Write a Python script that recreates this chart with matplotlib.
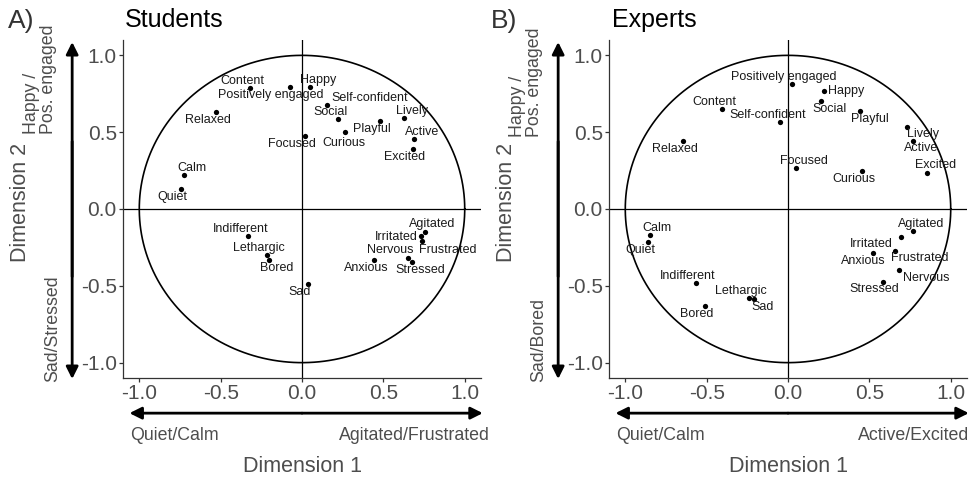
import numpy as np
import matplotlib
matplotlib.use("Agg")
import matplotlib.pyplot as plt

plt.rcParams['font.family'] = ['Liberation Sans', 'DejaVu Sans']

# emotion coordinates on the first two dimensions
stud_labels = ["Content", "Positively engaged", "Happy", "Self-confident", "Social",
               "Relaxed", "Lively", "Playful", "Curious", "Focused", "Active", "Excited",
               "Calm", "Quiet", "Indifferent", "Lethargic", "Bored", "Sad", "Agitated",
               "Irritated", "Frustrated", "Nervous", "Stressed", "Anxious"]
stud_x = [-0.32, -0.075, 0.047, 0.151, 0.219, -0.53, 0.626, 0.477, 0.264, 0.018, 0.69, 0.681,
          -0.728, -0.746, -0.329, -0.217, -0.204, 0.037, 0.753, 0.732, 0.738, 0.652, 0.677, 0.442]
stud_y = [0.79, 0.795, 0.797, 0.68, 0.588, 0.634, 0.593, 0.571, 0.502, 0.477, 0.458, 0.391,
          0.219, 0.130, -0.178, -0.302, -0.335, -0.491, -0.148, -0.178, -0.211, -0.319, -0.345, -0.332]

exp_labels = ["Positively engaged", "Happy", "Social", "Playful", "Content", "Self-confident",
              "Relaxed", "Lively", "Active", "Excited", "Focused", "Curious", "Calm", "Quiet",
              "Indifferent", "Bored", "Lethargic", "Sad", "Agitated", "Irritated", "Frustrated",
              "Anxious", "Nervous", "Stressed"]
exp_x = [0.023, 0.22, 0.201, 0.441, -0.404, -0.049, -0.643, 0.734, 0.771, 0.857, 0.049, 0.455,
         -0.849, -0.858, -0.566, -0.511, -0.240, -0.211, 0.771, 0.695, 0.66, 0.52, 0.681, 0.585]
exp_y = [0.816, 0.769, 0.701, 0.640, 0.653, 0.567, 0.445, 0.534, 0.445, 0.235, 0.265, 0.245,
         -0.169, -0.217, -0.48, -0.63, -0.582, -0.584, -0.146, -0.180, -0.274, -0.285, -0.395, -0.474]

# label nudges in pixels (dx right, dy down)
stud_nudge = {"Content": (-8, -7), "Positively engaged": (-19, 8), "Happy": (8, -7),
              "Self-confident": (43, -7), "Social": (-7, -7), "Relaxed": (-8, 8),
              "Lively": (8, -7), "Playful": (-8, 8), "Curious": (-1, 11), "Focused": (-13, 8),
              "Active": (8, -7), "Excited": (-8, 8), "Calm": (8, -7), "Quiet": (-8, 8),
              "Indifferent": (-8, -7), "Lethargic": (-8, -7), "Bored": (8, 8), "Sad": (-8, 8),
              "Agitated": (8, -8), "Irritated": (-25, 1), "Frustrated": (26, 9),
              "Nervous": (-18, -8), "Stressed": (8, 8), "Anxious": (-8, 8)}
exp_nudge = {"Positively engaged": (-8, -7), "Happy": (22, 0), "Social": (9, 8),
             "Playful": (10, 8), "Content": (-8, -7), "Self-confident": (-12, -7),
             "Relaxed": (-8, 8), "Lively": (16, 7), "Active": (8, 7), "Excited": (8, -8),
             "Focused": (8, -7), "Curious": (-8, 8), "Calm": (7, -7), "Quiet": (-8, 8),
             "Indifferent": (-8, -7), "Bored": (-8, 8), "Lethargic": (-8, -7), "Sad": (9, 8),
             "Agitated": (8, -7), "Irritated": (-30, 7), "Frustrated": (24, 7),
             "Anxious": (-9, 8), "Nervous": (27, 8), "Stressed": (-9, 7)}

ticks = [-1.0, -0.5, 0.0, 0.5, 1.0]
grey = "#4D4D4D"

fig = plt.figure(figsize=(9.72, 4.79), dpi=100)
W, H = 972.0, 479.0


def arrow(ax, p0, p1):
    # filled head at p1
    ax.annotate("", xy=p1, xytext=p0, xycoords="axes fraction",
                arrowprops=dict(arrowstyle="-|>", lw=2.0, color="black", mutation_scale=18,
                                shrinkA=0, shrinkB=0), annotation_clip=False)


def panel(left_px, labels, xs, ys, nudge, letter, title, title_x, top_lbl, top_y, bot_lbl,
          left_lbl, right_lbl, right_x):
    ax = fig.add_axes([left_px / W, (H - 378) / H, 358 / W, 338 / H])
    ax.set_xlim(-1.1, 1.1)
    ax.set_ylim(-1.1, 1.1)
    for s in ["top", "right"]:
        ax.spines[s].set_visible(False)
    for s in ["left", "bottom"]:
        ax.spines[s].set_color("#333333")
        ax.spines[s].set_linewidth(0.9)
    ax.set_xticks(ticks)
    ax.set_yticks(ticks)
    ax.set_xticklabels(["%.1f" % t for t in ticks])
    ax.set_yticklabels(["%.1f" % t for t in ticks])
    ax.tick_params(length=3, width=0.9, color="#333333", labelcolor=grey, labelsize=15, pad=1.5)

    ax.axhline(0, color="black", lw=0.9)
    ax.axvline(0, color="black", lw=0.9)
    th = np.linspace(0, 2 * np.pi, 400)
    ax.plot(np.cos(th), np.sin(th), color="black", lw=1.2)

    ax.plot(xs, ys, "o", color="black", ms=3.8, mew=0)
    for lab, x, y in zip(labels, xs, ys):
        dx, dy = nudge[lab]
        ax.annotate(lab, (x, y), xytext=(dx, -dy), textcoords="offset pixels",
                    ha="center", va="center", fontsize=9, color="#1a1a1a")

    # direction arrows outside the panel
    arrow(ax, (-0.142, 0.3), (-0.142, 0.994))
    arrow(ax, (-0.142, 0.7), (-0.142, -0.003))
    arrow(ax, (0.5, -0.104), (0.018, -0.104))
    arrow(ax, (0.5, -0.104), (1.005, -0.104))

    ax.text(-0.233, top_y, top_lbl, transform=ax.transAxes, rotation=90, ha="center",
            va="bottom", multialignment="left", fontsize=12.8, color=grey, linespacing=1.0)
    ax.text(-0.197, -0.012, bot_lbl, transform=ax.transAxes, rotation=90, ha="center",
            va="bottom", fontsize=12.8, color=grey)
    ax.text(0.02, -0.17, left_lbl, transform=ax.transAxes, ha="left", va="center",
            fontsize=12.8, color=grey)
    ax.text(right_x, -0.17, right_lbl, transform=ax.transAxes, ha="right", va="center",
            fontsize=12.8, color=grey)
    ax.text(0.5, -0.263, "Dimension 1", transform=ax.transAxes, ha="center", va="center",
            fontsize=15.5, color=grey)
    ax.text(-0.285, 0.52, "Dimension 2", transform=ax.transAxes, rotation=90, ha="center",
            va="center", fontsize=15.5, color=grey)

    fig.text(letter[1] / W, (H - 28) / H, letter[0], fontsize=19, color="#333333", va="baseline")
    fig.text(title_x / W, (H - 27) / H, title, fontsize=18, color="black", va="baseline")
    return ax


panel(123, stud_labels, stud_x, stud_y, stud_nudge, ("A)", 8), "Students", 125,
      "Happy /\nPos. engaged", 0.722, "Sad/Stressed", "Quiet/Calm", "Agitated/Frustrated", 1.025)
panel(609, exp_labels, exp_x, exp_y, exp_nudge, ("B)", 491), "Experts", 612,
      "Happy /\nPos. engaged", 0.713, "Sad/Bored", "Quiet/Calm", "Active/Excited", 1.006)

fig.savefig("out.png", dpi=100)
